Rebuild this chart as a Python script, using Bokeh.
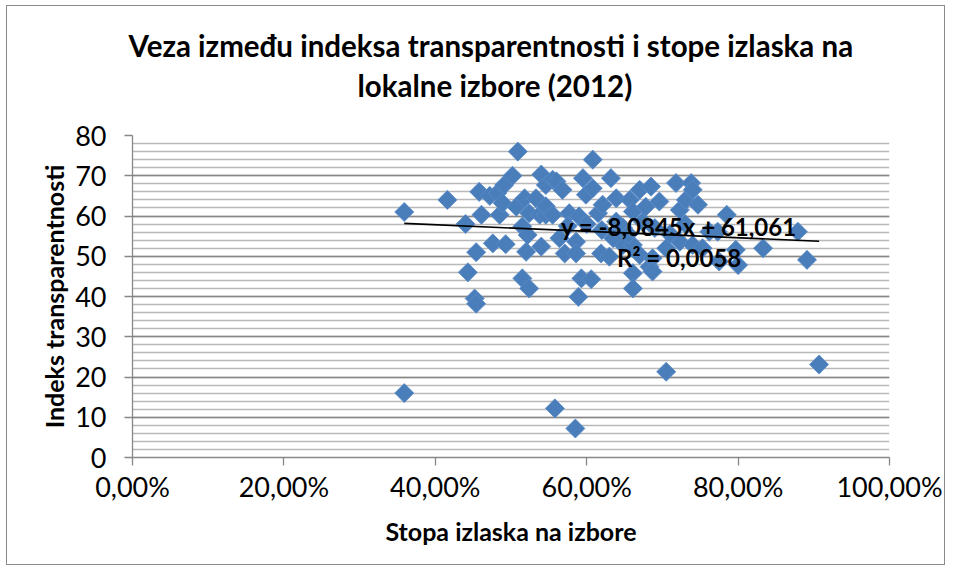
from bokeh.plotting import figure
from bokeh.models import Range1d, FixedTicker, Label, Title
from bokeh.embed import file_html
from bokeh.resources import INLINE

# ---- data (turnout as fraction, transparency index) ----
turnout = [0.359, 0.359, 0.416, 0.440, 0.443, 0.452, 0.454, 0.454, 0.458, 0.461,
           0.472, 0.476, 0.482, 0.485, 0.489, 0.491, 0.493, 0.502, 0.507, 0.509,
           0.515, 0.515, 0.518, 0.520, 0.522, 0.524, 0.524, 0.533, 0.538, 0.540,
           0.540, 0.546, 0.546, 0.546, 0.555, 0.555, 0.558, 0.560, 0.564, 0.568,
           0.571, 0.577, 0.585, 0.586, 0.586, 0.589, 0.590, 0.593, 0.595, 0.599,
           0.606, 0.608, 0.608, 0.615, 0.619, 0.621, 0.630, 0.632, 0.639, 0.639,
           0.648, 0.648, 0.657, 0.661, 0.661, 0.661, 0.661, 0.670, 0.670, 0.674,
           0.678, 0.683, 0.685, 0.687, 0.687, 0.696, 0.705, 0.705, 0.718, 0.723,
           0.723, 0.731, 0.738, 0.740, 0.740, 0.747, 0.753, 0.762, 0.773, 0.775,
           0.785, 0.797, 0.800, 0.833, 0.879, 0.891, 0.907,
           0.575, 0.600, 0.620, 0.635, 0.655, 0.690, 0.710, 0.730]
index = [61.0, 16.0, 64.0, 58.0, 46.0, 39.5, 38.2, 51.0, 66.0, 60.3,
         65.0, 53.2, 65.7, 60.3, 63.2, 67.7, 53.0, 70.0, 62.3, 76.0,
         44.5, 57.4, 64.4, 51.1, 55.3, 42.0, 60.7, 64.4, 60.3, 70.3,
         52.4, 67.7, 60.3, 62.4, 69.0, 60.3, 12.2, 68.6, 54.5, 66.5,
         50.7, 60.7, 7.2, 53.6, 50.7, 39.9, 59.9, 44.5, 69.4, 65.3,
         44.3, 74.0, 66.9, 60.7, 50.7, 62.8, 49.9, 69.4, 64.4, 58.6,
         52.8, 57.1, 64.0, 61.1, 52.8, 45.8, 42.0, 66.5, 50.3, 58.6,
         62.3, 47.4, 67.3, 49.5, 46.2, 63.6, 52.0, 21.3, 68.2, 61.5,
         53.6, 64.0, 68.2, 66.5, 52.8, 62.8, 52.0, 56.1, 56.1, 48.7,
         60.3, 51.6, 47.8, 52.0, 56.1, 49.1, 23.1,
         57.5, 58.0, 56.5, 54.5, 55.5, 57.0, 55.5, 58.0]

x_ticks = [0.0, 0.2, 0.4, 0.6, 0.8, 1.0]
x_tick_labels = ["0,00%", "20,00%", "40,00%", "60,00%", "80,00%", "100,00%"]
y_ticks = [0, 10, 20, 30, 40, 50, 60, 70, 80]
y_minor = list(range(0, 81, 2))

trend_slope = -8.0845
trend_intercept = 61.061
trend_eq = "y = -8,0845x + 61,061"
trend_r2 = "R² = 0,0058"

title_line1 = "Veza između indeksa transparentnosti i stope izlaska na"
title_line2 = "lokalne izbore (2012)"
x_title = "Stopa izlaska na izbore"
y_title = "Indeks transparentnosti"

FONT = "Lato"

p = figure(width=939, height=560, output_backend="svg", toolbar_location=None,
           x_range=Range1d(0, 1), y_range=Range1d(0, 80),
           min_border_left=125, min_border_right=57, min_border_top=129,
           min_border_bottom=109, title=None)
p.styles = {"border": "1px solid #8a8a8a", "margin-left": "6px", "margin-top": "5px"}
p.outline_line_color = None
p.background_fill_color = "white"
p.border_fill_color = "white"

# grids
p.xgrid.grid_line_color = None
p.ygrid.ticker = FixedTicker(ticks=y_ticks, minor_ticks=y_minor)
p.ygrid.grid_line_color = "#878787"
p.ygrid.grid_line_width = 1.3
p.ygrid.minor_grid_line_color = "#b9b9b9"
p.ygrid.minor_grid_line_width = 1.3

# axes
p.xaxis.ticker = FixedTicker(ticks=x_ticks)
p.xaxis.major_label_overrides = {t: l for t, l in zip(x_ticks, x_tick_labels)}
p.yaxis.ticker = FixedTicker(ticks=y_ticks)
for ax in (p.xaxis[0], p.yaxis[0]):
    ax.axis_line_color = "#878787"
    ax.axis_line_width = 1.3
    ax.major_tick_line_color = "#878787"
    ax.major_tick_line_width = 1.3
    ax.major_tick_out = 8
    ax.major_tick_in = 0
    ax.minor_tick_line_color = None
    ax.major_label_text_font = FONT
    ax.major_label_text_font_size = "27px"
    ax.major_label_text_color = "black"
    ax.axis_label_text_font = FONT
    ax.axis_label_text_font_style = "bold"
    ax.axis_label_text_font_size = "25px"
    ax.axis_label_text_color = "black"
p.xaxis.axis_label = x_title
p.yaxis.axis_label = y_title
p.xaxis.major_label_standoff = 4
p.yaxis.major_label_standoff = 18
p.xaxis.axis_label_standoff = 10
p.yaxis.axis_label_standoff = 3

# two-line title (line 2 added first = nearest to the plot)
t2 = Title(text=title_line2, align="left", offset=225, standoff=66,
           text_font=FONT, text_font_style="bold", text_font_size="29.5px",
           text_color="black")
t1 = Title(text=title_line1, align="left", offset=-4, standoff=-60,
           text_font=FONT, text_font_style="bold", text_font_size="29.5px",
           text_color="black")
p.add_layout(t2, "above")
p.add_layout(t1, "above")

# scatter
p.scatter(turnout, index, marker="square", angle=0.785398, size=13.5,
          fill_color="#4a7ebb", line_color="#5a8cc8", line_width=0.8)

# trendline
x0, x1 = min(turnout), max(turnout)
p.line([x0, x1], [trend_slope * x0 + trend_intercept, trend_slope * x1 + trend_intercept],
       line_color="black", line_width=1.6)

p.add_layout(Label(x=0.566, y=57.5, text=trend_eq, text_font=FONT,
                   text_font_style="bold", text_font_size="24px", text_baseline="middle",
                   text_color="black"))
p.add_layout(Label(x=0.640, y=49.6, text=trend_r2, text_font=FONT,
                   text_font_style="bold", text_font_size="24px", text_baseline="middle",
                   text_color="black"))

open("out.html", "w").write(file_html(p, INLINE))
